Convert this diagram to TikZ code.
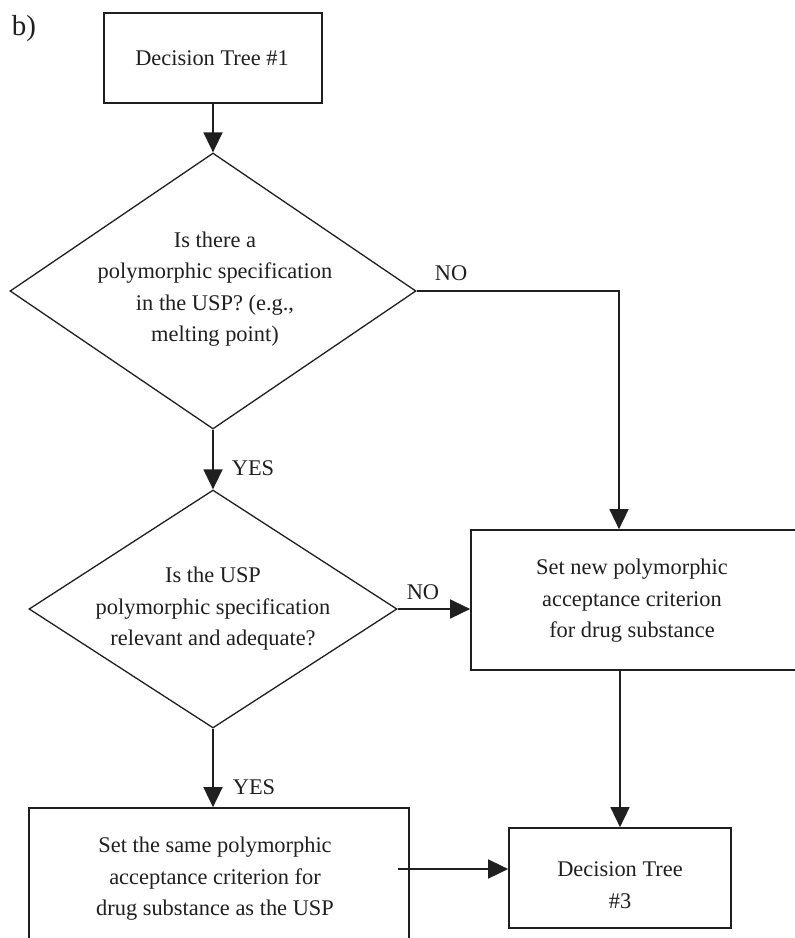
\documentclass[tikz,border=0pt]{standalone}
\usepackage{fontspec}
\setmainfont{Liberation Serif}
\usetikzlibrary{shapes.geometric,arrows.meta}
\begin{document}
\begin{tikzpicture}[x=1pt,y=-1pt,
  every node/.style={font=\fontsize{22.4}{31.5}\selectfont, text=black!88},
  boxn/.style={draw=black!88, line width=1.7pt, inner sep=0pt},
  dia/.style={draw=black!88, line width=1.3pt, diamond, inner sep=0pt},
  txt/.style={align=center, inner sep=0pt},
  lab/.style={inner sep=0pt},
  conn/.style={draw=black!88, line width=1.6pt},
  arr/.style={conn, -{Triangle[length=20pt,width=19pt]}}]
\useasboundingbox (0,0) rectangle (795,938);
\clip (0,0) rectangle (795,938);

\node[lab, font=\fontsize{29}{32}\selectfont] (tag) at (24,29) {b)};

% Decision tree 1
\node[boxn, minimum width=218, minimum height=90] (dt1) at (213,58) {};
\node[txt] (dt1t) at (212,58) {Decision Tree \#1};

% Diamond 1
\node[dia, minimum width=406, minimum height=276] (d1) at (213,291) {};
\node[txt] (d1t) at (215,289) {Is there a\\polymorphic specification\\in the USP? (e.g.,\\melting point)};

% Diamond 2
\node[dia, minimum width=368, minimum height=238] (d2) at (213,609) {};
\node[txt] (d2t) at (213,609) {Is the USP\\polymorphic specification\\relevant and adequate?};

% Set new box
\node[boxn, minimum width=326, minimum height=140] (b2) at (634,600) {};
\node[txt] (b2t) at (632,601) {Set new polymorphic\\acceptance criterion\\for drug substance};

% Set same box
\node[boxn, minimum width=380, minimum height=138] (b3) at (219,877) {};
\node[txt] (b3t) at (215,879) {Set the same polymorphic\\acceptance criterion for\\drug substance as the USP};

% Decision tree 3
\node[boxn, minimum width=222, minimum height=100] (dt3) at (620,878) {};
\node[txt] (dt3t) at (620,885) {Decision Tree\\\#3};

% connectors
\draw[arr] (dt1.south) -- (d1.north);
\coordinate (c1) at (619,291);
\draw[arr] (d1.east) -- (c1) -- (c1 |- b2.north);
\node[lab] (no1) at (451,273) {NO};

\draw[arr] (d1.south) -- (d2.north);
\node[lab] (yes1) at (253,468) {YES};

\draw[arr] (d2.east) -- (b2.west |- d2.east);
\node[lab] (no2) at (423,592) {NO};

\draw[arr] (d2.south) -- (d2.south |- b3.north);
\node[lab] (yes2) at (254,787) {YES};

\draw[arr] (dt3.north |- b2.south) -- (dt3.north);

\coordinate (s) at (398,869);
\draw[arr] (s) -- (s -| dt3.west);
\end{tikzpicture}
\end{document}
